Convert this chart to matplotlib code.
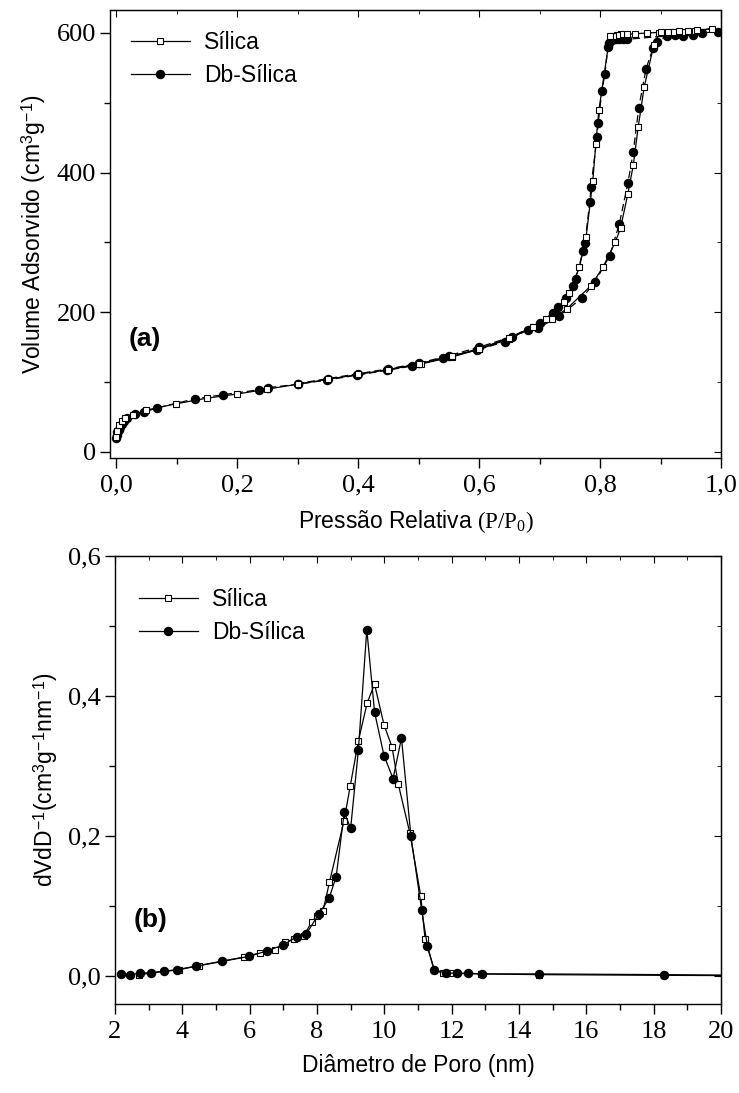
import matplotlib.pyplot as plt
from matplotlib.ticker import MultipleLocator, FuncFormatter
from matplotlib.lines import Line2D

# (a) isotherms: adsorption then desorption branch
silica_p = [0.0, 0.002, 0.005, 0.01, 0.015, 0.028, 0.05, 0.099, 0.15, 0.2, 0.25, 0.30,
            0.35, 0.40, 0.45, 0.504, 0.555, 0.60, 0.65, 0.689, 0.72, 0.745, 0.785, 0.805,
            0.825, 0.834, 0.846, 0.855, 0.863, 0.873, 0.889, 0.898, 0.912, 0.922, 0.937,
            0.945, 0.957, 0.985,
            0.96, 0.93, 0.90, 0.878, 0.858, 0.845, 0.835, 0.828, 0.822, 0.816, 0.798,
            0.793, 0.788, 0.777, 0.766, 0.749, 0.74, 0.711, 0.689, 0.65, 0.60, 0.555,
            0.50, 0.45]
silica_v = [22, 30, 38, 44, 49, 53, 60, 69, 77, 83, 90, 97,
            104, 111, 118, 126, 136, 147, 162, 179, 190, 205, 238, 265,
            300, 321, 370, 411, 465, 523, 583, 600, 602, 602, 602,
            603, 603, 606,
            604, 603, 601, 600, 599, 598, 598, 597, 596, 595, 489,
            441, 388, 308, 265, 228, 215, 191, 179, 163, 148, 137,
            126, 118]

db_p = [0.0, 0.001, 0.002, 0.004, 0.006, 0.009, 0.013, 0.018, 0.031, 0.046, 0.067, 0.13,
        0.177, 0.236, 0.251, 0.30, 0.349, 0.398, 0.448, 0.489, 0.54, 0.597, 0.643, 0.681,
        0.698, 0.732, 0.77, 0.792, 0.816, 0.832, 0.846, 0.855, 0.864, 0.876, 0.888, 0.894,
        0.911, 0.924, 0.937, 0.954, 0.969, 0.995,
        0.845, 0.838, 0.832, 0.826, 0.82, 0.815, 0.813, 0.808, 0.803, 0.797, 0.795,
        0.785, 0.783, 0.775, 0.772, 0.76, 0.755, 0.744, 0.730, 0.723, 0.70, 0.654,
        0.60, 0.55, 0.50, 0.45, 0.40, 0.35, 0.30]
db_v = [20, 24, 28, 32, 36, 40, 44, 48, 54, 57, 63, 76,
        82, 89, 92, 97, 103, 110, 117, 123, 135, 146, 158, 175,
        177, 195, 220, 244, 281, 327, 385, 430, 493, 549, 579, 587,
        596, 597, 596, 597, 600, 602,
        591, 591, 591, 591, 590, 586, 580, 541, 517, 471, 451,
        380, 358, 299, 288, 248, 237, 220, 207, 199, 185, 165,
        150, 138, 127, 119, 112, 105, 98]

# (b) pore size distribution
silica_d = [2.7, 3.9, 4.5, 5.82, 6.3, 6.76, 7.04, 7.32, 7.6, 7.84, 8.0, 8.18, 8.37,
            8.8, 8.99, 9.23, 9.49, 9.71, 9.99, 10.23, 10.41, 10.76, 11.08, 11.21,
            11.48, 11.73, 11.95, 12.86, 14.6, 18.3, 23.5]
silica_dv = [0.002, 0.009, 0.015, 0.027, 0.033, 0.037, 0.048, 0.053, 0.057, 0.077,
             0.086, 0.093, 0.134, 0.221, 0.272, 0.336, 0.39, 0.417, 0.359, 0.327,
             0.275, 0.204, 0.115, 0.053, 0.009, 0.004, 0.004, 0.003, 0.002, 0.001, 0.0]

db_d = [2.18, 2.45, 2.75, 3.08, 3.46, 3.83, 4.4, 5.19, 5.98, 6.52, 6.98, 7.4, 7.68,
        8.06, 8.36, 8.57, 8.81, 9.0, 9.23, 9.48, 9.71, 9.99, 10.26, 10.51, 10.79,
        11.11, 11.28, 11.48, 11.83, 12.15, 12.48, 12.9, 14.6, 18.3, 23.5]
db_dv = [0.003, 0.002, 0.004, 0.005, 0.007, 0.009, 0.014, 0.021, 0.028, 0.036, 0.044,
         0.056, 0.06, 0.089, 0.111, 0.142, 0.234, 0.211, 0.323, 0.495, 0.377, 0.315,
         0.282, 0.34, 0.2, 0.094, 0.043, 0.009, 0.004, 0.004, 0.004, 0.003, 0.003,
         0.002, 0.0]

sans = 'Liberation Sans'
serif = 'Liberation Serif'
plt.rcParams['font.family'] = serif
plt.rcParams['mathtext.fontset'] = 'custom'
plt.rcParams['mathtext.rm'] = serif
plt.rcParams['mathtext.it'] = serif + ':italic'
plt.rcParams['mathtext.bf'] = serif + ':bold'
plt.rcParams['mathtext.sf'] = sans

fig = plt.figure(figsize=(7.39, 10.93), dpi=100)
ax1 = fig.add_axes([0.1489, 0.5810, 0.8268, 0.4099])
ax2 = fig.add_axes([0.1556, 0.0814, 0.8200, 0.4099])

sq = dict(marker='s', ms=4.5, mfc='white', mec='black', mew=0.8, color='black', lw=0.9)
ci = dict(marker='o', ms=5.8, mfc='black', mec='black', color='black', lw=0.9)

ax1.plot(db_p, db_v, dashes=(6, 3), **ci)
ax1.plot(silica_p, silica_v, **sq)
ax2.plot(silica_d, silica_dv, **sq)
ax2.plot(db_d, db_dv, **ci)

comma = FuncFormatter(lambda v, p: ('%.1f' % v).replace('.', ','))


def style(ax, xmaj, ymaj):
    ax.xaxis.set_major_locator(MultipleLocator(xmaj))
    ax.xaxis.set_minor_locator(MultipleLocator(xmaj / 2))
    ax.yaxis.set_major_locator(MultipleLocator(ymaj))
    ax.yaxis.set_minor_locator(MultipleLocator(ymaj / 2))
    ax.tick_params(which='major', direction='out', length=7, width=1, labelsize=19)
    ax.tick_params(axis='x', which='major', pad=5)
    ax.tick_params(axis='y', which='major', pad=3)
    ax.tick_params(which='minor', direction='out', length=4, width=1)
    for s in ax.spines.values():
        s.set_linewidth(1)
    top = ax.secondary_xaxis('top')
    top.xaxis.set_major_locator(MultipleLocator(xmaj))
    top.xaxis.set_minor_locator(MultipleLocator(xmaj / 2))
    top.tick_params(which='both', direction='in', labeltop=False)
    top.tick_params(which='major', length=5)
    top.tick_params(which='minor', length=3)
    right = ax.secondary_yaxis('right')
    right.yaxis.set_major_locator(MultipleLocator(ymaj))
    right.yaxis.set_minor_locator(MultipleLocator(ymaj / 2))
    right.tick_params(which='both', direction='in', labelright=False)
    right.tick_params(which='major', length=5)
    right.tick_params(which='minor', length=3)


style(ax1, 0.2, 200)
ax1.set_xlim(-0.01, 1.0)
ax1.set_ylim(-8.6, 633)
ax1.xaxis.set_major_formatter(comma)
ax1.set_xlabel('Pressão Relativa $\\mathrm{(P/P_0)}$', fontsize=16.5, family=sans, labelpad=8)
ax1.set_ylabel('Volume Adsorvido (cm$^{\\mathsf{3}}$g$^{\\mathsf{-1}}$)', fontsize=16.5,
               family=sans, labelpad=6)
ax1.text(0.03, 0.266, '(a)', transform=ax1.transAxes, fontsize=19, fontweight='bold',
         family=sans, va='center')

style(ax2, 2, 0.2)
ax2.set_xlim(2, 20)
ax2.set_ylim(-0.04, 0.6)
ax2.yaxis.set_major_formatter(comma)
ax2.set_xlabel('Diâmetro de Poro (nm)', fontsize=16.5, family=sans, labelpad=8)
ax2.set_ylabel('dVdD$^{\\mathsf{-1}}$(cm$^{\\mathsf{3}}$g$^{\\mathsf{-1}}$nm$^{\\mathsf{-1}}$)',
               fontsize=16.5, family=sans, labelpad=6)
ax2.text(0.03, 0.188, '(b)', transform=ax2.transAxes, fontsize=19, fontweight='bold',
         family=sans, va='center')

handles = [Line2D([], [], **sq), Line2D([], [], **ci)]
ax1.legend(handles, ['Sílica', 'Db-Sílica'], loc='upper left', frameon=False,
           prop={'family': sans, 'size': 16.5}, handlelength=2.6, handletextpad=0.6,
           labelspacing=0.45, borderaxespad=0.5)
ax2.legend(handles, ['Sílica', 'Db-Sílica'], loc='upper left', frameon=False,
           prop={'family': sans, 'size': 16.5}, handlelength=2.6, handletextpad=0.6,
           labelspacing=0.45, bbox_to_anchor=(0.005, 0.975))

fig.savefig('out.png', dpi=100)
